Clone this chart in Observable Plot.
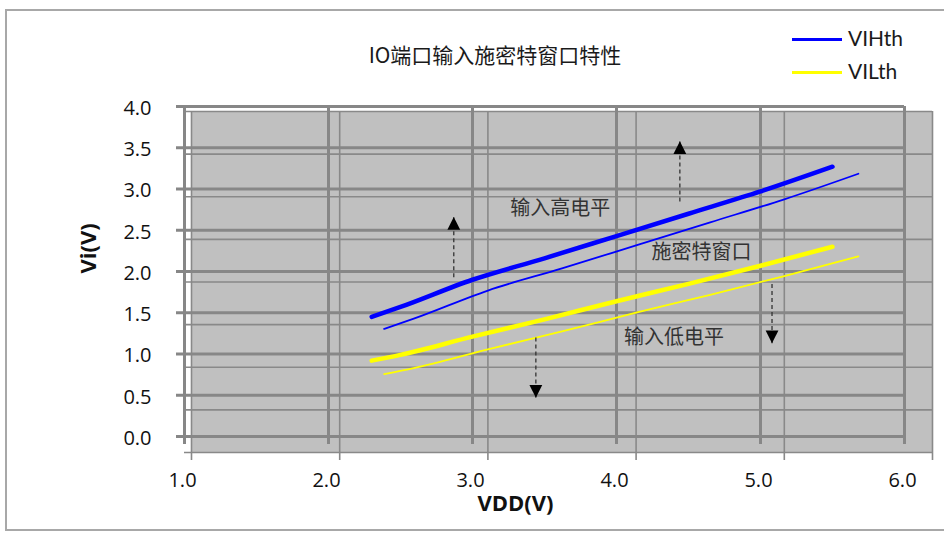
<!DOCTYPE html>
<html>
<head>
<meta charset="utf-8">
<script src="https://cdn.jsdelivr.net/npm/d3@7"></script>
<script src="https://cdn.jsdelivr.net/npm/@observablehq/plot@0.6"></script>
<style>
  body { margin: 0; background: #fff; }
  #chart { position: relative; width: 944px; height: 533px; overflow: hidden; background: #fff; }
  #chart svg { position: absolute; left: 0; top: 0; }
  .border { position: absolute; left: 5px; top: 9px; width: 960px; height: 522px; border: 2px solid #a8a8a8; box-sizing: border-box; }
  .title { position: absolute; left: 0; width: 990px; top: 39px; text-align: center; font: 21px "Noto Sans CJK SC", sans-serif; color: #1a1a1a; z-index: 5; }
  .swatch { position: absolute; left: 792px; width: 50px; height: 3px; z-index: 5; }
  .key { position: absolute; left: 848px; font: 21px Lato, sans-serif; color: #1a1a1a; line-height: 24px; z-index: 5; }
</style>
</head>
<body>
<div id="chart">
  <div class="border"></div>
  <div class="title">IO端口输入施密特窗口特性</div>
</div>
<script>
// Supply voltage sweep and the measured input thresholds
const vdd   = [2.3, 2.5, 3.0, 3.5, 4.0, 4.5, 5.0, 5.5];
const vihth = [1.45, 1.57, 1.90, 2.16, 2.43, 2.70, 2.97, 3.27];
const vilth = [0.92, 0.99, 1.21, 1.42, 1.64, 1.85, 2.07, 2.30];

const seriesNames  = ["VIHth", "VILth"];
const seriesColors = ["#0000ff", "#ffff00"];

const xTicks = [1, 2, 3, 4, 5, 6];
const yTicks = [0, 0.5, 1, 1.5, 2, 2.5, 3, 3.5, 4];

// Region labels and the dashed arrows pointing away from the window
const noteText = ["输入高电平", "施密特窗口", "输入低电平"];
const noteX    = [3.61, 4.59, 4.40];
const noteY    = [2.76, 2.23, 1.20];

const arrowX    = [2.87, 4.44, 3.44, 5.08];
const arrowFrom = [1.93, 2.85, 1.20, 1.85];
const arrowTo   = [2.66, 3.58, 0.47, 1.13];

const rows = seriesNames.flatMap((name, s) =>
  vdd.map((x, i) => ({series: name, vdd: x, v: (s === 0 ? vihth : vilth)[i]})));
const notes = noteText.map((t, i) => ({text: t, x: noteX[i], y: noteY[i]}));
const arrows = arrowX.map((x, i) => ({x, from: arrowFrom[i], to: arrowTo[i]}));

// Filled arrow heads with the tip at the anchor point
const headUp = {draw(ctx, size) { const s = Math.sqrt(size); ctx.moveTo(0, 0); ctx.lineTo(0.95 * s, 1.9 * s); ctx.lineTo(-0.95 * s, 1.9 * s); ctx.closePath(); }};
const headDown = {draw(ctx, size) { const s = Math.sqrt(size); ctx.moveTo(0, 0); ctx.lineTo(0.95 * s, -1.9 * s); ctx.lineTo(-0.95 * s, -1.9 * s); ctx.closePath(); }};

// Two overlaid copies of the chart: a finer inner panel and the main framed one
const inner = {marginLeft: 191, marginRight: 12, marginTop: 111, marginBottom: 81};
const outer = {marginLeft: 184, marginRight: 40, marginTop: 106, marginBottom: 97};

const xDomain = d3.extent(xTicks);
const yDomain = d3.extent(yTicks);

function layer(box, marks, showAxes = false) {
  return Plot.plot({
    width: 944, height: 533, ...box,
    x: {domain: xDomain, ...(showAxes ? {} : {axis: null})},
    y: {domain: yDomain, ...(showAxes ? {} : {axis: null})},
    color: {domain: seriesNames, range: seriesColors},
    style: {background: "transparent", overflow: "visible", fontFamily: "'Open Sans', sans-serif"},
    marks
  });
}

const chart = document.getElementById("chart");

// inner panel: gray plot area and fine grid
chart.appendChild(layer(inner, [
  Plot.frame({fill: "#c0c0c0", stroke: null}),
  Plot.ruleX(xTicks, {stroke: "#898989", strokeWidth: 1.6, insetBottom: -8}),
  Plot.ruleY(yTicks, {stroke: "#898989", strokeWidth: 1.6, insetLeft: -7})
]));

// main panel: heavy grid
chart.appendChild(layer(outer, [
  Plot.ruleX(xTicks, {stroke: "#878787", strokeWidth: 3, insetBottom: -8}),
  Plot.ruleY(yTicks, {stroke: "#878787", strokeWidth: 3, insetLeft: -8})
]));

// inner panel: thin threshold curves
chart.appendChild(layer(inner, [
  Plot.line(rows, {x: "vdd", y: "v", z: "series", stroke: "series", strokeWidth: 1.8, curve: "monotone-x"})
]));

// main panel: thick curves, annotations and axes
chart.appendChild(layer(outer, [
  Plot.line(rows, {x: "vdd", y: "v", z: "series", stroke: "series", strokeWidth: 4.5, curve: "monotone-x", strokeLinecap: "round"}),
  Plot.link(arrows, {x1: "x", y1: "from", x2: "x", y2: "to", stroke: "#333", strokeWidth: 1.3, strokeDasharray: "4,3"}),
  Plot.dot(arrows.filter(d => d.to > d.from), {x: "x", y: "to", r: 3.8, symbol: headUp, fill: "#000", stroke: null}),
  Plot.dot(arrows.filter(d => d.to < d.from), {x: "x", y: "to", r: 3.8, symbol: headDown, fill: "#000", stroke: null}),
  Plot.text(notes, {x: "x", y: "y", text: "text", fontSize: 20, fill: "#333", fontFamily: "'Noto Sans CJK SC', sans-serif"}),
  Plot.axisY({ticks: yTicks, tickSize: 0, tickPadding: 33, tickFormat: d3.format(".1f"), fontSize: 20, fill: "#111", dy: 2, label: null}),
  Plot.axisX({ticks: xTicks, tickSize: 0, tickPadding: 36, tickFormat: d3.format(".1f"), fontSize: 20, fill: "#111", dx: -2, label: null}),
  Plot.text(["VDD(V)"], {frameAnchor: "bottom", dx: -29, dy: 74, fontSize: 22, fontWeight: "bold", fill: "#111"}),
  Plot.text(["Vi(V)"], {frameAnchor: "left", dx: -96, dy: 2, rotate: -90, fontSize: 22, fontWeight: "bold", fill: "#111"})
], true));

// legend
seriesNames.forEach((name, i) => {
  const top = 39 + i * 33;
  const sw = document.createElement("div");
  sw.className = "swatch";
  sw.style.top = (top - 1.5) + "px";
  sw.style.background = seriesColors[i];
  chart.appendChild(sw);
  const key = document.createElement("div");
  key.className = "key";
  key.style.top = (top - 13) + "px";
  key.textContent = name;
  chart.appendChild(key);
});
</script>
</body>
</html>
